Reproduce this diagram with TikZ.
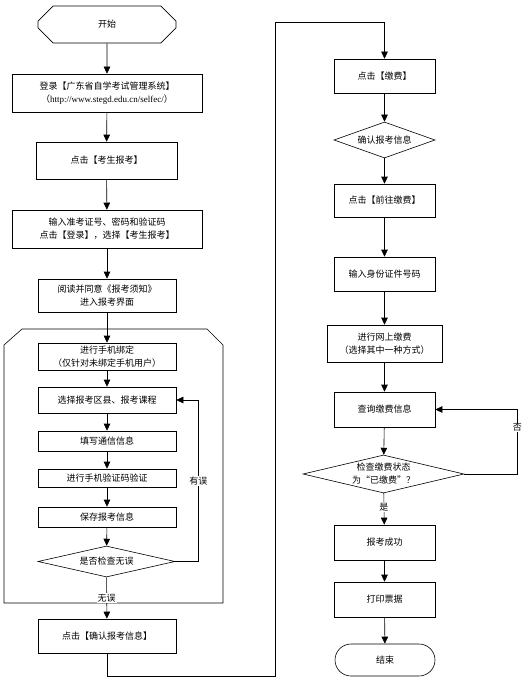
\documentclass[tikz,border=0pt]{standalone}
\usepackage{fontspec}
\setmainfont{Noto Sans CJK SC}
\newfontfamily\urlfont{Liberation Serif}
\usetikzlibrary{arrows.meta,shapes.geometric,shapes.misc}

\tikzset{
  proc/.style={draw, line width=0.6pt, align=center, inner sep=1pt, font=\fontsize{9}{13}\selectfont},
  decide/.style={draw, diamond, line width=0.6pt, align=center, inner sep=0pt, font=\fontsize{9}{13}\selectfont},
  flow/.style={-{Triangle[length=7pt,width=6.5pt]}, line width=0.6pt},
  tag/.style={fill=white, inner sep=1pt, font=\fontsize{9}{11}\selectfont}
}

\begin{document}
\begin{tikzpicture}[x=1pt, y=-1pt]
  \useasboundingbox (0,0) rectangle (529,679);
  % left column
  \node (start) [proc, chamfered rectangle, chamfered rectangle xsep=17pt, chamfered rectangle ysep=18.5pt, minimum width=138pt, minimum height=37pt] at (107,24.5) {开始};
  \node (login) [proc, minimum width=190pt, minimum height=38pt] at (107,93)
    {登录【广东省自学考试管理系统】\\（{\urlfont http://www.stegd.edu.cn/selfec/}）};
  \node (stu)    [proc, minimum width=141pt, minimum height=37pt] at (106.5,160.5) {点击【考生报考】};
  \node (acct)   [proc, minimum width=190pt, minimum height=38pt] at (107,229)
    {输入准考证号、密码和验证码\\点击【登录】，选择【考生报考】};
  \node (read)   [proc, minimum width=138pt, minimum height=33pt] at (107,295.5)
    {阅读并同意《报考须知》\\进入报考界面};
  % frame round the registration steps
  \draw[line width=0.6pt] (4,603) -- (4,345) -- (22,329) -- (207,329) -- (223,345) -- (223,603) -- cycle;
  \node (bind)   [proc, minimum width=138pt, minimum height=27pt] at (107,356.5)
    {进行手机绑定\\（仅针对未绑定手机用户）};
  \node (course) [proc, minimum width=138pt, minimum height=26pt] at (107,400) {选择报考区县、报考课程};
  \node (mail)   [proc, minimum width=138pt, minimum height=20pt] at (107,441) {填写通信信息};
  \node (verify) [proc, minimum width=138pt, minimum height=18pt] at (107,478) {进行手机验证码验证};
  \node (save)   [proc, minimum width=138pt, minimum height=20pt] at (107,517) {保存报考信息};
  \node (check)  [decide, aspect=4.4, minimum width=137pt, minimum height=31pt] at (106.5,561.5) {是否检查无误};
  \node (confirm) [proc, minimum width=138pt, minimum height=34pt] at (107,636) {点击【确认报考信息】};
  % right column
  \node (pay)    [proc, minimum width=101pt, minimum height=34pt] at (384.5,76) {点击【缴费】};
  \node (verinfo) [decide, aspect=2.8, minimum width=101pt, minimum height=36pt] at (384.5,140) {确认报考信息};
  \node (gopay)  [proc, minimum width=101pt, minimum height=33pt] at (384.5,200.5) {点击【前往缴费】};
  \node (idnum)  [proc, minimum width=101pt, minimum height=34pt] at (384.5,274) {输入身份证件号码};
  \node (online) [proc, minimum width=115pt, minimum height=37pt] at (384.5,343.5)
    {进行网上缴费\\（选择其中一种方式）};
  \node (query)  [proc, minimum width=101pt, minimum height=35pt] at (384.5,409.5) {查询缴费信息};
  \node (paid)   [decide, aspect=4.24, minimum width=161pt, minimum height=38pt] at (383.5,474)
    {检查缴费状态\\为“已缴费”？};
  \node (ok)     [proc, minimum width=101pt, minimum height=35pt] at (384.5,542.5) {报考成功};
  \node (print)  [proc, minimum width=101pt, minimum height=35pt] at (384.5,599.5) {打印票据};
  \node (stop)   [proc, rounded rectangle, minimum width=102pt, minimum height=32pt] at (385,660) {结束};

  \path[flow]
  (start) edge (login)
  (login) edge (stu)
  (stu) edge (acct)
  (acct) edge (read)
  (read) edge (bind)
  (bind) edge (course)
  (course) edge (mail)
  (mail) edge (verify)
  (verify) edge (save)
  (save) edge (check)
  (check) edge node [tag, pos=0.5] {无误} (confirm)
  (pay) edge (verinfo)
  (verinfo) edge (gopay)
  (gopay) edge (idnum)
  (idnum) edge (online)
  (online) edge (query)
  (query) edge (paid)
  (paid) edge node [tag, pos=0.45] {是} (ok)
  (ok) edge (print)
  (print) edge (stop);
  \draw[flow] (check.east) -- ++(23,0) |- (course.east) node [tag, pos=0.25] {有误};
  \draw[flow] (paid.east) -- ++(53,0) |- (query.east) node [tag, pos=0.36] {否};
  \draw[flow] (confirm.south) -- ++(0,23) -| (275,22) -| (pay.north);
\end{tikzpicture}
\end{document}
